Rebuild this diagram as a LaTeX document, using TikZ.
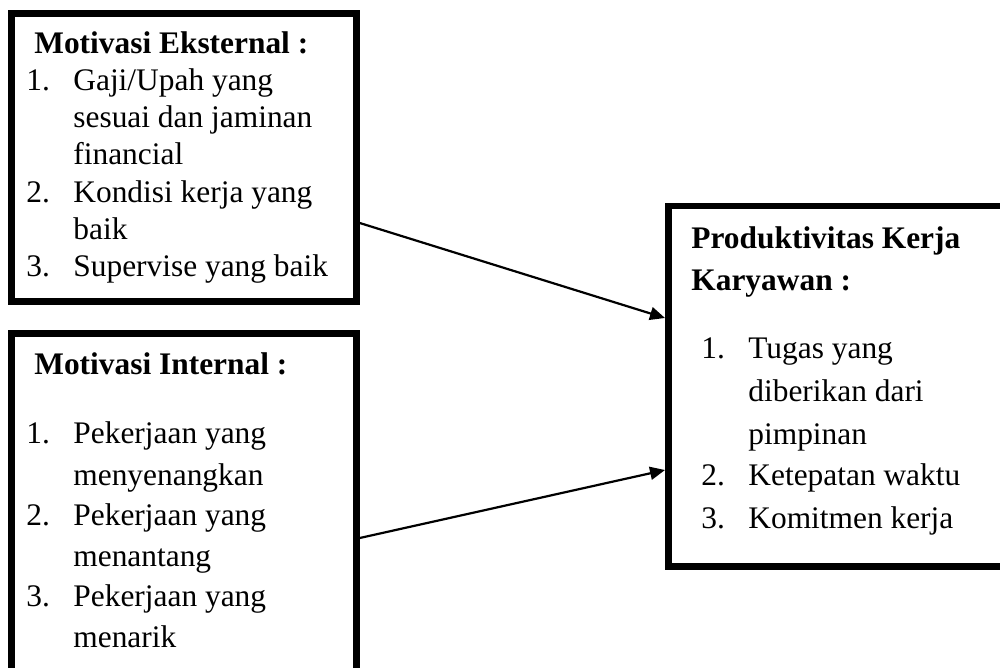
\documentclass[tikz,border=0pt]{standalone}
\usepackage{fontspec}
\setmainfont{Liberation Serif}
\usetikzlibrary{arrows.meta}
\begin{document}
\begin{tikzpicture}[x=0.5pt,y=-0.5pt,
  box/.style={draw=black,line width=3.25pt,inner sep=0pt,fill=none},
  txt/.style={anchor=base west,inner sep=0pt,font=\fontsize{15.7}{18}\selectfont},
  ttl/.style={txt,font=\fontsize{15.7}{18}\selectfont\bfseries},
  arr/.style={line width=1.1pt,-{Triangle[length=7.5pt,width=6.5pt]}}]
\useasboundingbox (0,0) rectangle (1000,668);
\clip (0,0) rectangle (1000,668);
% boxes
\node[box,minimum width=172.5pt,minimum height=144pt] (b1) at (184,157.5) {};
\node[box,minimum width=172.5pt,minimum height=193.25pt] (b2) at (184,526.75) {};
\node[box,minimum width=168.75pt,minimum height=180.25pt] (b3) at (837,386.25) {};
% box 1 text
\node[ttl] (t1) at (34,54) {Motivasi Eksternal :};
\node[txt] (n11) at (26,91) {1.};
\node[txt] (i11) at (73,91) {Gaji/Upah yang};
\node[txt] (i12) at (73,128) {sesuai dan jaminan};
\node[txt] (i13) at (73,165) {financial};
\node[txt] (n12) at (26,203) {2.};
\node[txt] (i14) at (73,203) {Kondisi kerja yang};
\node[txt] (i15) at (73,240) {baik};
\node[txt] (n13) at (26,277) {3.};
\node[txt] (i16) at (73,277) {Supervise yang baik};
% box 2 text
\node[ttl] (t2) at (34,374) {Motivasi Internal :};
\node[txt] (n21) at (26,443) {1.};
\node[txt] (i21) at (73,443) {Pekerjaan yang};
\node[txt] (i22) at (73,485) {menyenangkan};
\node[txt] (n22) at (26,525) {2.};
\node[txt] (i23) at (73,525) {Pekerjaan yang};
\node[txt] (i24) at (73,566) {menantang};
\node[txt] (n23) at (26,606) {3.};
\node[txt] (i25) at (73,606) {Pekerjaan yang};
\node[txt] (i26) at (73,647) {menarik};
% box 3 text
\node[ttl] (t3a) at (691,249) {Produktivitas Kerja};
\node[ttl] (t3b) at (691,290) {Karyawan :};
\node[txt] (n31) at (701,358) {1.};
\node[txt] (i31) at (748,358) {Tugas yang};
\node[txt] (i32) at (748,401) {diberikan dari};
\node[txt] (i33) at (748,444) {pimpinan};
\node[txt] (n32) at (701,485) {2.};
\node[txt] (i34) at (748,485) {Ketepatan waktu};
\node[txt] (n33) at (701,528) {3.};
\node[txt] (i35) at (748,528) {Komitmen kerja};
% arrows
\draw[arr] (b1.east |- 0,223) -- (b3.west |- 0,318);
\draw[arr] (b2.east |- 0,538) -- (b3.west |- 0,470);
\end{tikzpicture}
\end{document}
